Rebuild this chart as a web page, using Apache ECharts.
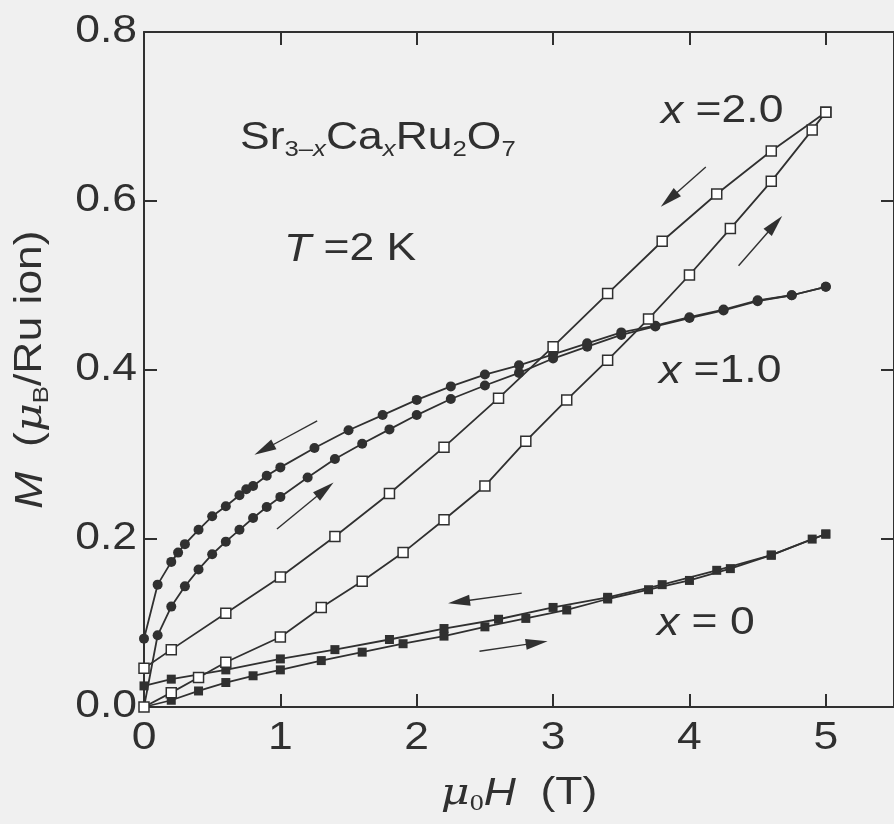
<!DOCTYPE html>
<html><head><meta charset="utf-8">
<script src="https://cdn.jsdelivr.net/npm/echarts@6/dist/echarts.min.js"></script>
<style>html,body{margin:0;padding:0;background:#f0f0f0}#c{width:894px;height:824px}</style>
</head><body><div id="c"></div>
<script>
// ---- data ----
// x = 0, field increasing / decreasing
const H0up = [0, 0.2, 0.4, 0.6, 0.8, 1.0, 1.3, 1.6, 1.9, 2.2, 2.5, 2.8, 3.1, 3.4, 3.7, 4.0, 4.3, 4.6, 4.9, 5.0];
const M0up = [0, 0.008, 0.019, 0.029, 0.037, 0.044, 0.055, 0.065, 0.075, 0.084, 0.095, 0.105, 0.115, 0.128, 0.139, 0.150, 0.164, 0.180, 0.199, 0.205];
const H0dn = [5.0, 4.6, 4.2, 3.8, 3.4, 3.0, 2.6, 2.2, 1.8, 1.4, 1.0, 0.6, 0.2, 0];
const M0dn = [0.205, 0.180, 0.162, 0.145, 0.130, 0.118, 0.104, 0.093, 0.080, 0.068, 0.057, 0.044, 0.033, 0.025];
// x = 1.0
const H1up = [0, 0.1, 0.2, 0.3, 0.4, 0.5, 0.6, 0.7, 0.8, 0.9, 1.0, 1.2, 1.4, 1.6, 1.8, 2.0, 2.25, 2.5, 2.75, 3.0, 3.25, 3.5, 3.75, 4.0, 4.25, 4.5, 4.75, 5.0];
const M1up = [0, 0.085, 0.119, 0.143, 0.163, 0.181, 0.196, 0.210, 0.224, 0.237, 0.249, 0.272, 0.294, 0.312, 0.329, 0.346, 0.365, 0.381, 0.396, 0.413, 0.427, 0.441, 0.451, 0.461, 0.470, 0.481, 0.488, 0.498];
const H1dn = [5.0, 4.75, 4.5, 4.25, 4.0, 3.75, 3.5, 3.25, 3.0, 2.75, 2.5, 2.25, 2.0, 1.75, 1.5, 1.25, 1.0, 0.9, 0.8, 0.75, 0.7, 0.6, 0.5, 0.4, 0.3, 0.25, 0.2, 0.1, 0];
const M1dn = [0.498, 0.488, 0.482, 0.471, 0.462, 0.452, 0.444, 0.431, 0.418, 0.405, 0.394, 0.380, 0.364, 0.346, 0.328, 0.307, 0.284, 0.274, 0.262, 0.258, 0.251, 0.238, 0.226, 0.210, 0.193, 0.183, 0.172, 0.145, 0.081];
// x = 2.0
const H2up = [0, 0.2, 0.4, 0.6, 1.0, 1.3, 1.6, 1.9, 2.2, 2.5, 2.8, 3.1, 3.4, 3.7, 4.0, 4.3, 4.6, 4.9, 5.0];
const M2up = [0, 0.017, 0.035, 0.053, 0.083, 0.118, 0.149, 0.183, 0.222, 0.262, 0.315, 0.364, 0.411, 0.460, 0.512, 0.567, 0.623, 0.684, 0.705];
const H2dn = [5.0, 4.6, 4.2, 3.8, 3.4, 3.0, 2.6, 2.2, 1.8, 1.4, 1.0, 0.6, 0.2, 0];
const M2dn = [0.705, 0.659, 0.608, 0.552, 0.490, 0.427, 0.366, 0.308, 0.253, 0.202, 0.154, 0.111, 0.068, 0.046];
// sweep-direction arrows: [tailH, tailM, tipH, tipM]
const arrows = [
  [4.12, 0.640, 3.79, 0.593],
  [4.36, 0.523, 4.68, 0.582],
  [1.27, 0.339, 0.81, 0.299],
  [0.975, 0.211, 1.39, 0.266],
  [2.77, 0.135, 2.23, 0.123],
  [2.46, 0.066, 2.96, 0.078]
];
const xTicks = [0, 1, 2, 3, 4, 5];
const yTicks = [0.0, 0.2, 0.4, 0.6, 0.8];

// ---- drawing ----
const FF = '"Liberation Sans", Arial, Helvetica, sans-serif';
const INK = '#303030';
const TEXT_STRETCH = 1.17; // the reference lettering is wider than Helvetica/Arial
const zip = (a, b) => a.map((v, i) => [v, b[i]]);

function lineSeries(H, M, symbol, size, fill) {
  return {
    type: 'line', data: zip(H, M), symbol: symbol, symbolSize: size,
    showAllSymbol: true, animation: false,
    lineStyle: { color: INK, width: 1.8 },
    itemStyle: { color: fill, borderColor: INK, borderWidth: fill === '#fff' ? 1.5 : 0 },
    z: fill === '#fff' ? 4 : 3
  };
}

const chart = echarts.init(document.getElementById('c'), null, { renderer: 'canvas' });
const axisCommon = {
  axisLine: { show: true, onZero: false, lineStyle: { color: INK, width: 2 } },
  axisTick: { show: true, inside: true, length: 13, lineStyle: { color: INK, width: 2 } },
  splitLine: { show: false }
};
const mainRich = (F) => ({
  n: { fontFamily: FF, fontSize: F, color: INK, lineHeight: 44 },
  i: { fontFamily: FF, fontSize: F, color: INK, fontStyle: 'italic', lineHeight: 44 },
  s: { fontFamily: FF, fontSize: 22, color: INK, lineHeight: 8, verticalAlign: 'bottom' },
  g: { fontFamily: '"DejaVu Serif", serif', fontSize: F, color: INK, fontStyle: 'italic', lineHeight: 44 },
  t: { fontFamily: '"Liberation Serif", serif', fontSize: 24, color: INK, lineHeight: 8, verticalAlign: 'bottom' }
});
const annRich = {
  n: { fontFamily: FF, fontSize: 38, fill: INK, lineHeight: 44 },
  i: { fontFamily: FF, fontSize: 38, fill: INK, fontStyle: 'italic', lineHeight: 44 },
  s: { fontFamily: FF, fontSize: 22, fill: INK, lineHeight: 8, verticalAlign: 'bottom' },
  si: { fontFamily: FF, fontSize: 22, fill: INK, fontStyle: 'italic', lineHeight: 8, verticalAlign: 'bottom' }
};

const option = {
  backgroundColor: '#f0f0f0',
  animation: false,
  grid: { left: 144, top: 32, bottom: 117, right: -4 },
  xAxis: [
    Object.assign({
      type: 'value', min: 0, max: 5.5, interval: 1, position: 'bottom',
      axisLabel: { fontFamily: FF, fontSize: 38, color: INK, margin: 13, showMaxLabel: false,
        formatter: v => (xTicks.indexOf(v) >= 0 ? String(v) : '') },
      name: '{g|μ}{t|0}{i|H}{n|  (T)}', nameLocation: 'middle', nameGap: 65,
      nameTextStyle: { rich: mainRich(38) }
    }, axisCommon),
    Object.assign({
      type: 'value', min: 0, max: 5.5, interval: 1, position: 'top',
      axisLabel: { show: false }
    }, axisCommon)
  ],
  yAxis: [
    Object.assign({
      type: 'value', min: 0, max: 0.8, interval: 0.2, position: 'left',
      axisLabel: { fontFamily: FF, fontSize: 38, color: INK, margin: 7,
        formatter: v => (yTicks.some(t => Math.abs(t - v) < 1e-9) ? v.toFixed(1) : '') },
      name: '{i|M}{n|  (}{g|μ}{s|B}{n|/Ru ion)}', nameLocation: 'middle', nameGap: 91, nameRotate: 90,
      nameTextStyle: { rich: mainRich(38) }
    }, axisCommon),
    Object.assign({
      type: 'value', min: 0, max: 0.8, interval: 0.2, position: 'right',
      axisLabel: { show: false }
    }, axisCommon)
  ],
  series: [
    lineSeries(H0up, M0up, 'rect', 9, INK),
    lineSeries(H0dn, M0dn, 'rect', 9, INK),
    lineSeries(H1up, M1up, 'circle', 10, INK),
    lineSeries(H1dn, M1dn, 'circle', 10, INK),
    lineSeries(H2up, M2up, 'rect', 10, '#fff'),
    lineSeries(H2dn, M2dn, 'rect', 10, '#fff'),
    {
      type: 'custom', data: arrows, encode: { x: [0, 2], y: [1, 3] }, silent: true, z: 5,
      renderItem: function (params, api) {
        const p0 = api.coord([api.value(0), api.value(1)]);
        const p1 = api.coord([api.value(2), api.value(3)]);
        const dx = p1[0] - p0[0], dy = p1[1] - p0[1];
        const len = Math.hypot(dx, dy);
        const ux = dx / len, uy = dy / len;
        const hl = 22, hw = 5.5;
        const bx = p1[0] - ux * hl, by = p1[1] - uy * hl;
        return {
          type: 'group', children: [
            { type: 'line', shape: { x1: p0[0], y1: p0[1], x2: bx + ux * 2, y2: by + uy * 2 }, style: { stroke: INK, lineWidth: 1.4 } },
            { type: 'polygon', shape: { points: [[p1[0], p1[1]], [bx - uy * hw, by + ux * hw], [bx + uy * hw, by - ux * hw]] }, style: { fill: INK } }
          ]
        };
      }
    }
  ],
  graphic: [
    { type: 'text', x: 240, y: 117, style: { text: '{n|Sr}{s|3–}{si|x}{n|Ca}{si|x}{n|Ru}{s|2}{n|O}{s|7}', verticalAlign: 'top', rich: annRich } },
    { type: 'text', x: 284, y: 228, style: { text: '{i|T}{n| =2 K}', verticalAlign: 'top', rich: annRich } },
    { type: 'text', x: 661, y: 90, style: { text: '{i|x}{n| =2.0}', verticalAlign: 'top', rich: annRich } },
    { type: 'text', x: 659, y: 350, style: { text: '{i|x}{n| =1.0}', verticalAlign: 'top', rich: annRich } },
    { type: 'text', x: 657, y: 602, style: { text: '{i|x}{n| = 0}', verticalAlign: 'top', rich: annRich } }
  ]
};
chart.setOption(option);

// widen every text element horizontally (along its own writing direction)
function stretchTexts() {
  const zr = chart.getZr();
  const visit = el => {
    if (el.type === 'text') { el.scaleX = TEXT_STRETCH; el.markRedraw(); }
    if (el.isGroup && el.eachChild) el.eachChild(visit);
  };
  zr.storage.getRoots().forEach(visit);
  zr.refreshImmediately();
}
stretchTexts();
</script></body></html>
